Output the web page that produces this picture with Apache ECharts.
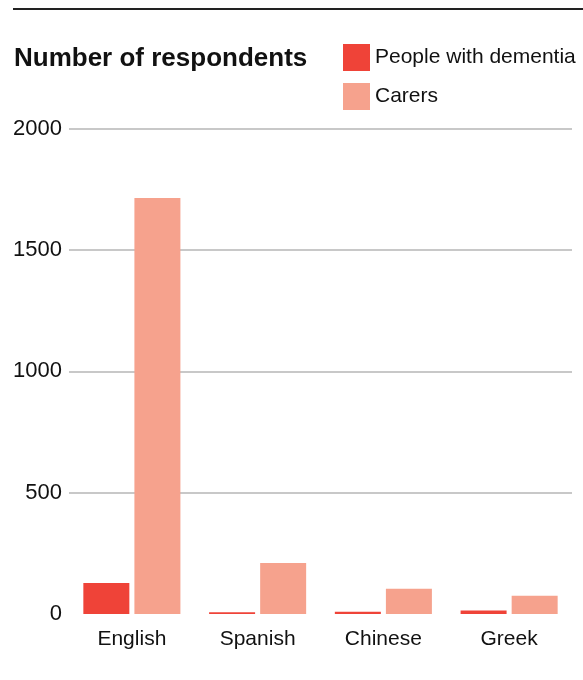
<!DOCTYPE html>
<html>
<head>
<meta charset="utf-8">
<script src="https://cdn.jsdelivr.net/npm/echarts@6/dist/echarts.min.js"></script>
<style>
html,body{margin:0;padding:0;background:#fff;}
#chart{width:583px;height:680px;}
</style>
</head>
<body>
<div id="chart"></div>
<script>
var categories = ['English', 'Spanish', 'Chinese', 'Greek'];
var dementia = [128, 7, 9, 14];
var carers = [1714, 210, 104, 75];
var yTicks = [0, 500, 1000, 1500, 2000];
var seriesNames = ['People with dementia', 'Carers'];
var titleText = 'Number of respondents';

var FONT = "'Liberation Sans', Arial, sans-serif";
var chart = echarts.init(document.getElementById('chart'), null, {renderer: 'canvas'});
chart.setOption({
  animation: false,
  backgroundColor: '#ffffff',
  title: {
    text: titleText,
    left: 14,
    top: 46,
    padding: 0,
    textStyle: {fontFamily: FONT, fontWeight: 'bold', fontSize: 26, color: '#111'}
  },
  legend: {
    orient: 'vertical',
    left: 343,
    top: 44,
    padding: 0,
    itemWidth: 27,
    itemHeight: 27,
    itemGap: 12,
    icon: 'rect',
    textStyle: {fontFamily: FONT, fontSize: 21, color: '#111', padding: [3, 0, 0, 0]},
    data: seriesNames
  },
  graphic: [{
    type: 'line',
    shape: {x1: 13, y1: 9, x2: 583, y2: 9},
    style: {stroke: '#222', lineWidth: 2}
  }],
  grid: {left: 69, right: 11, top: 128.5, bottom: 66, containLabel: false},
  xAxis: {
    type: 'category',
    data: categories,
    axisLine: {show: false},
    axisTick: {show: false},
    axisLabel: {fontFamily: FONT, fontSize: 21, color: '#111', margin: 15}
  },
  yAxis: {
    type: 'value',
    min: yTicks[0],
    max: yTicks[yTicks.length - 1],
    interval: yTicks[1] - yTicks[0],
    axisLine: {show: false},
    axisTick: {show: false},
    axisLabel: {fontFamily: FONT, fontSize: 22, color: '#111', margin: 7, padding: [3, 0, 0, 0], formatter: function (v) { return String(v); }},
    splitLine: {show: true, showMinLine: false, lineStyle: {color: '#c8c8c8', width: 2}}
  },
  series: [
    {name: seriesNames[0], type: 'bar', data: dementia, barWidth: 46, barGap: '11%', itemStyle: {color: '#ef4338'}},
    {name: seriesNames[1], type: 'bar', data: carers, barWidth: 46, itemStyle: {color: '#f6a28d'}}
  ]
});
</script>
</body>
</html>
